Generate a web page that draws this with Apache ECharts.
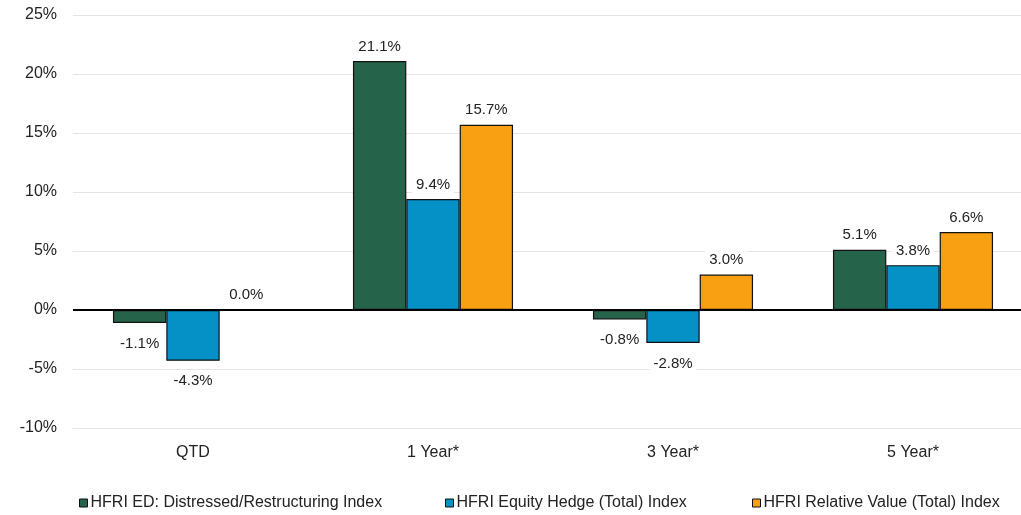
<!DOCTYPE html>
<html><head><meta charset="utf-8">
<script src="https://cdn.jsdelivr.net/npm/echarts@6/dist/echarts.min.js"></script>
<style>html,body{margin:0;padding:0;background:#fff;overflow:hidden;}#c{width:1033px;height:515px;}</style>
</head><body><div id="c"></div>
<script>
const categories = ['QTD', '1 Year*', '3 Year*', '5 Year*'];
const seriesNames = ['HFRI ED: Distressed/Restructuring Index', 'HFRI Equity Hedge (Total) Index', 'HFRI Relative Value (Total) Index'];
const distressed = [-1.1, 21.1, -0.8, 5.1];
const equityHedge = [-4.3, 9.4, -2.8, 3.8];
const relativeValue = [0.04, 15.7, 3.0, 6.6];
const colors = ['#25634A', '#0590C6', '#F9A012'];

const FONT = 'Liberation Sans, Arial, sans-serif';
const all = [distressed, equityHedge, relativeValue];
const chart = echarts.init(document.getElementById('c'));
const series = all.map((vals, i) => ({
  name: seriesNames[i],
  type: 'bar',
  barGap: '0%',
  barCategoryGap: '33.3%',
  barMinHeight: 0,
  itemStyle: {color: colors[i], borderColor: '#111', borderWidth: 1.2},
  label: {
    show: true, position: 'top', distance: 5,
    fontFamily: FONT, fontSize: 15, color: '#222',
    backgroundColor: '#fff', padding: [2, 4],
    formatter: p => p.value.toFixed(1) + '%'
  },
  data: vals.map(v => v < 0 ? {value: v, label: {position: 'bottom', distance: 11}} : v),
  markLine: i === 0 ? {silent: true, symbol: 'none', label: {show: false},
    lineStyle: {color: '#000', width: 2, type: 'solid'}, data: [{yAxis: 0}]} : undefined,
  z: 2
}));
const legendLefts = [74, 440, 747];
const legends = seriesNames.map((n, i) => ({
  data: [n], bottom: -1, left: legendLefts[i], itemWidth: 8, itemHeight: 8,
  icon: 'rect',
  itemStyle: {borderColor: '#111', borderWidth: 1},
  textStyle: {fontFamily: FONT, fontSize: 16, color: '#222', padding: [0, 0, 0, -2]}
}));
chart.setOption({
  animation: false,
  grid: {left: 73, right: 0, top: 15, bottom: 87, containLabel: false},
  legend: legends,
  xAxis: {
    type: 'category', data: categories,
    axisLine: {show: false, onZero: false}, axisTick: {show: false},
    axisLabel: {margin: 17, fontFamily: FONT, fontSize: 16, color: '#222'}
  },
  yAxis: {
    type: 'value', min: -10, max: 25, interval: 5,
    axisLine: {show: false}, axisTick: {show: false},
    splitLine: {lineStyle: {color: '#e4e4e4', width: 1}},
    axisLabel: {margin: 16, fontFamily: FONT, fontSize: 16, color: '#222', formatter: v => v + '%'}
  },
  series
});
</script></body></html>
